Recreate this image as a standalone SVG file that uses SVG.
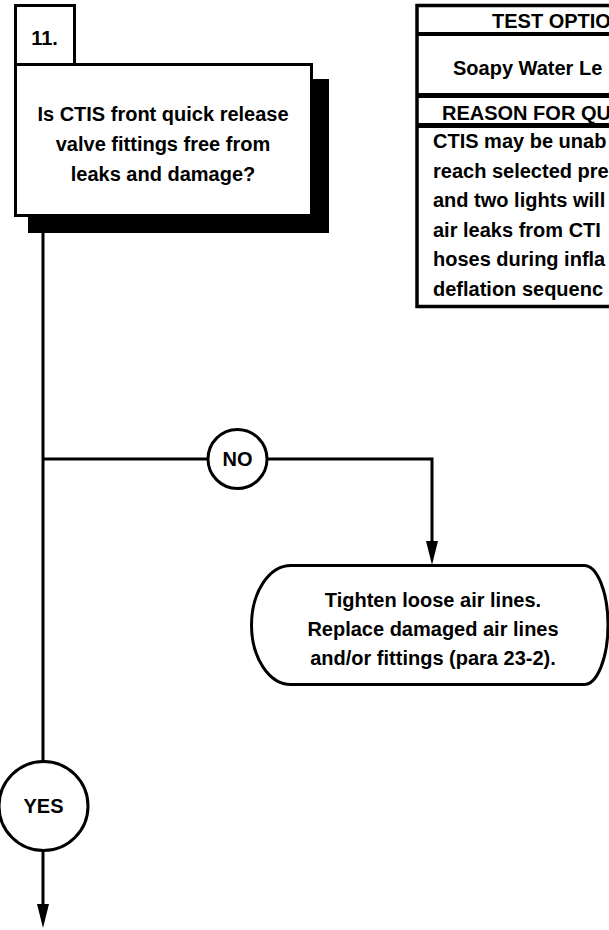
<svg xmlns="http://www.w3.org/2000/svg" width="609" height="930" viewBox="0 0 609 930">
  <style>
    text { font-family: "Liberation Sans", Arial, sans-serif; font-weight: bold; font-size: 20px; fill: #000; }
    .mid { text-anchor: middle; }
    .box { fill: #fff; stroke: #000; stroke-width: 3; }
    .line { fill: none; stroke: #000; stroke-width: 3; }
  </style>
  <defs>
    <!-- long narrow arrowhead; tip sits 10px past the end of the line -->
    <marker id="arrow" viewBox="0 0 24 12" refX="14" refY="6" markerWidth="24" markerHeight="12" markerUnits="userSpaceOnUse" orient="auto">
      <path d="M0,0 L24,6 L0,12 Z" fill="#000"/>
    </marker>
  </defs>

  <rect width="609" height="930" fill="#fff"/>

  <!-- Step 11 decision box with drop shadow -->
  <g id="step11">
    <rect x="28" y="79" width="301" height="154" fill="#000"/>
    <rect class="box" x="15.5" y="5.5" width="59" height="59"/>
    <rect class="box" x="15.5" y="64.5" width="296" height="151"/>
    <text x="44.5" y="45" class="mid">11.</text>
    <text x="163" y="121" class="mid">Is CTIS front quick release</text>
    <text x="163" y="151" class="mid">valve fittings free from</text>
    <text x="163" y="181" class="mid">leaks and damage?</text>
  </g>

  <!-- Test options / reason table -->
  <g id="test-options">
    <rect x="417" y="5.5" width="320" height="301" fill="#fff" stroke="#000" stroke-width="3.5"/>
    <line x1="417" y1="34" x2="740" y2="34" stroke="#000" stroke-width="4"/>
    <line x1="417" y1="95.5" x2="740" y2="95.5" stroke="#000" stroke-width="5"/>
    <line x1="417" y1="125.5" x2="740" y2="125.5" stroke="#000" stroke-width="5"/>
    <text x="492" y="28">TEST OPTIO</text>
    <text x="453" y="75">Soapy Water Le</text>
    <text x="442" y="120">REASON FOR QU</text>
    <text x="433" y="148">CTIS may be unab</text>
    <text x="433" y="178">reach selected pre</text>
    <text x="433" y="207">and two lights will</text>
    <text x="433" y="237">air leaks from CTI</text>
    <text x="433" y="266">hoses during infla</text>
    <text x="433" y="296">deflation sequenc</text>
  </g>

  <!-- Connectors -->
  <g id="connectors">
    <line class="line" x1="43" y1="233" x2="43" y2="762"/>
    <line class="line" x1="43" y1="459" x2="208" y2="459"/>
    <polyline class="line" points="267,459 432,459 432,555" marker-end="url(#arrow)"/>
    <line class="line" x1="43" y1="851" x2="43" y2="918" marker-end="url(#arrow)"/>
  </g>

  <!-- NO label -->
  <g id="no">
    <circle class="box" cx="237.5" cy="459" r="29.5"/>
    <text x="237.5" y="466" class="mid">NO</text>
  </g>

  <!-- Corrective action -->
  <g id="repair">
    <path class="box" d="M291,565.5 H584 A24,59.5 0 0 1 584,684.5 H291 A39.5,59.5 0 0 1 291,565.5 Z"/>
    <text x="433" y="607" class="mid">Tighten loose air lines.</text>
    <text x="433" y="636" class="mid">Replace damaged air lines</text>
    <text x="433" y="665" class="mid">and/or fittings (para 23-2).</text>
  </g>

  <!-- YES label -->
  <g id="yes">
    <circle class="box" cx="43.5" cy="806" r="44.5"/>
    <text x="43.5" y="813" class="mid">YES</text>
  </g>
</svg>
